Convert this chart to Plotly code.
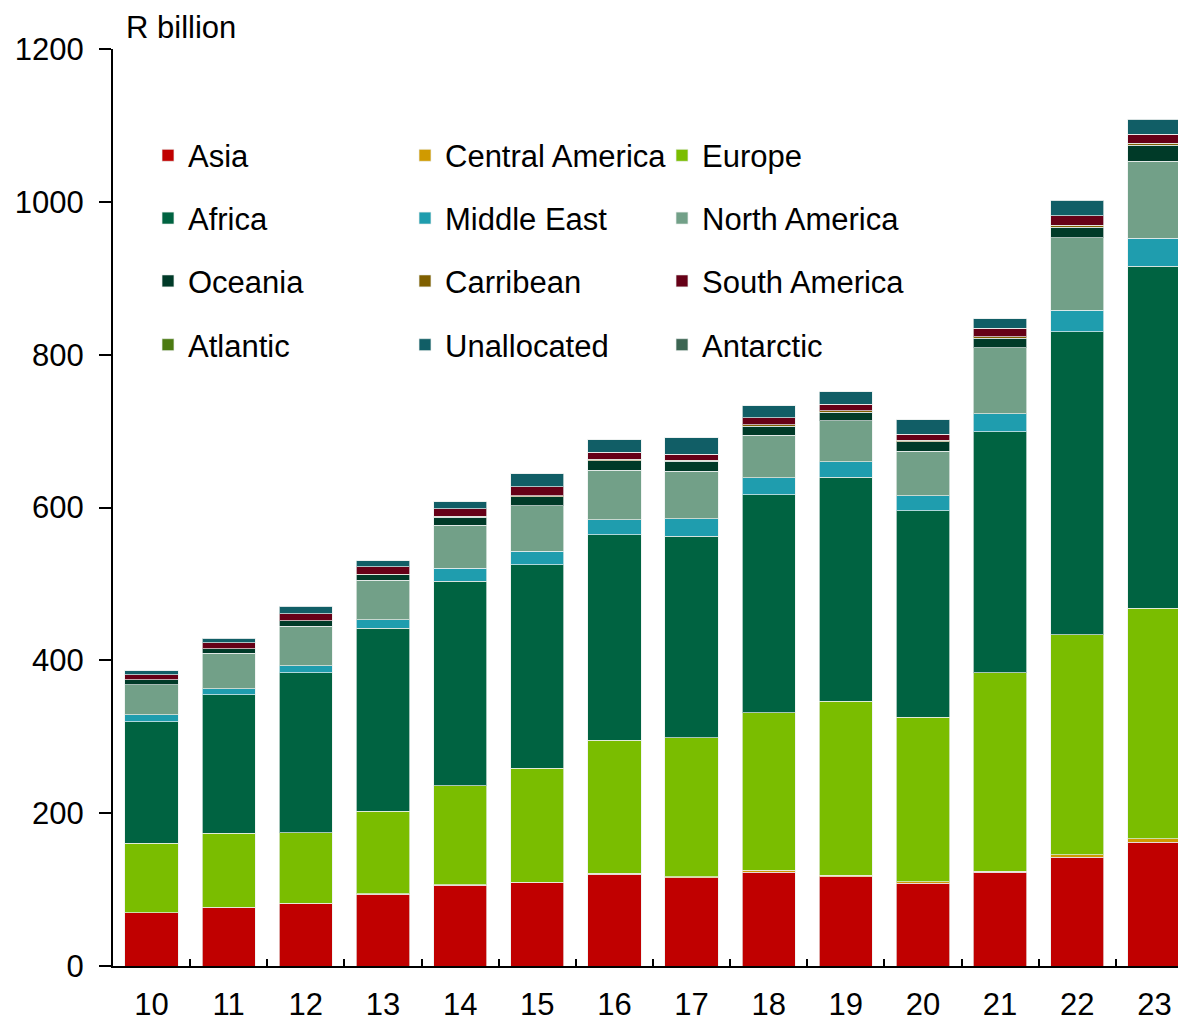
import plotly.graph_objects as go

years = ["10", "11", "12", "13", "14", "15", "16", "17", "18", "19", "20", "21", "22", "23"]

asia = [69.5, 76.5, 81.7, 94.2, 105.8, 109.0, 120.3, 115.5, 123.0, 116.5, 108.3, 122.6, 142.6, 162.1]
central_america = [0.5, 0.5, 0.5, 0.5, 0.6, 0.6, 1.0, 1.0, 2.6, 2.2, 1.7, 1.7, 3.0, 4.4]
europe = [90.8, 96.5, 92.1, 107.5, 129.7, 149.0, 173.9, 182.5, 206.1, 227.8, 215.2, 259.6, 287.8, 301.7]
africa = [158.7, 181.3, 209.2, 239.9, 267.7, 266.5, 269.0, 263.5, 284.7, 293.0, 270.3, 315.2, 396.9, 447.4]
middle_east = [9.2, 7.8, 9.1, 11.3, 16.6, 17.5, 19.6, 22.6, 22.7, 20.5, 20.1, 23.5, 27.9, 36.5]
north_america = [39.1, 46.4, 52.2, 51.3, 56.5, 60.0, 65.2, 62.6, 55.2, 53.5, 57.8, 86.4, 94.7, 101.2]
oceania = [6.5, 6.0, 7.0, 7.4, 10.4, 11.2, 12.3, 12.7, 12.1, 11.2, 12.7, 12.2, 14.0, 20.9]
carribean = [0.3, 0.4, 0.3, 0.5, 1.0, 1.8, 1.7, 1.7, 2.2, 2.2, 2.0, 2.2, 2.6, 2.6]
south_america = [6.6, 7.8, 8.8, 9.9, 9.9, 11.3, 9.5, 7.8, 8.8, 8.2, 7.9, 11.3, 12.1, 11.8]
atlantic = [0.1, 0.1, 0.1, 0.1, 0.1, 0.1, 0.1, 0.1, 0.1, 0.1, 0.1, 0.1, 0.1, 0.1]
unallocated = [4.9, 5.7, 9.6, 7.8, 9.1, 17.4, 16.2, 21.4, 15.6, 16.6, 18.7, 12.2, 20.5, 19.1]
antarctic = [0.0, 0.0, 0.0, 0.0, 0.0, 0.0, 0.0, 0.0, 0.0, 0.0, 0.0, 0.0, 0.0, 0.0]

series = [
    ("Asia", asia, "#C00000", "legend"),
    ("Central America", central_america, "#D09A00", "legend"),
    ("Europe", europe, "#7ABD00", "legend"),
    ("Africa", africa, "#006341", "legend2"),
    ("Middle East", middle_east, "#1F9DAE", "legend2"),
    ("North America", north_america, "#72A088", "legend2"),
    ("Oceania", oceania, "#003A28", "legend3"),
    ("Carribean", carribean, "#7F5F00", "legend3"),
    ("South America", south_america, "#660017", "legend3"),
    ("Atlantic", atlantic, "#4C7A12", "legend4"),
    ("Unallocated", unallocated, "#115E66", "legend4"),
    ("Antarctic", antarctic, "#3C6552", "legend4"),
]

FONT = "Liberation Sans, Arial, sans-serif"
FS = 31

fig = go.Figure()
for name, vals, color, lg in series:
    fig.add_trace(go.Bar(
        x=years, y=vals, name=name, legend=lg,
        marker=dict(color=color, line=dict(color="rgba(235,240,238,0.7)", width=1)),
        hoverinfo="skip",
    ))

# page has an 8px body margin; work in page coordinates and subtract it
OFF = 8
PAGE_W, PAGE_H = 1186, 1022
W, H = PAGE_W - OFF, PAGE_H - OFF
PLOT_L, PLOT_T, PLOT_B = 113, 49, 969   # page coords
ML = PLOT_L - OFF
MT = PLOT_T - OFF
MB = PAGE_H - PLOT_B
MR = 0
plot_h = H - MT - MB
plot_w = W - ML - MR

def row_y(py):
    return 1 - (py - PLOT_T) / plot_h

def col_x(px):
    return (px - PLOT_L) / plot_w

legend_common = dict(
    orientation="h", xanchor="left", yanchor="middle",
    x=col_x(148), entrywidth=212, entrywidthmode="pixels",
    font=dict(family=FONT, size=FS, color="#000"),
    bgcolor="rgba(0,0,0,0)", traceorder="normal",
    itemclick=False, itemdoubleclick=False,
)

fig.update_layout(
    width=W, height=H,
    margin=dict(l=ML, r=MR, t=MT, b=MB),
    barmode="stack", bargap=0.31,
    plot_bgcolor="white", paper_bgcolor="white",
    font=dict(family=FONT, size=FS, color="#000"),
    showlegend=True,
    legend=dict(**legend_common, y=row_y(156)),
    legend2=dict(**legend_common, y=row_y(219)),
    legend3=dict(**legend_common, y=row_y(282)),
    legend4=dict(**legend_common, y=row_y(346)),
    xaxis=dict(
        type="category", range=[-0.5, 13.41],
        showline=True, linecolor="#000", linewidth=2,
        ticks="inside", tickson="boundaries", ticklen=7, tickcolor="#000", tickwidth=1.5,
        tickfont=dict(family=FONT, size=FS, color="#000"),
        ticklabelstandoff=10,
        showgrid=False, zeroline=False,
    ),
    yaxis=dict(
        range=[0, 1200], tickvals=[0, 200, 400, 600, 800, 1000, 1200],
        showline=True, linecolor="#000", linewidth=2,
        ticks="outside", ticklen=12, tickcolor="#000", tickwidth=2,
        tickfont=dict(family=FONT, size=FS, color="#000"),
        ticklabelstandoff=9,
        showgrid=False, zeroline=False,
    ),
    annotations=[dict(
        text="R billion", xref="paper", yref="paper",
        x=col_x(124), y=1, xanchor="left", yanchor="middle",
        yshift=22, showarrow=False,
        font=dict(family=FONT, size=FS, color="#000"),
    )],
)

fig.write_html("out.html", config={"displayModeBar": False})
